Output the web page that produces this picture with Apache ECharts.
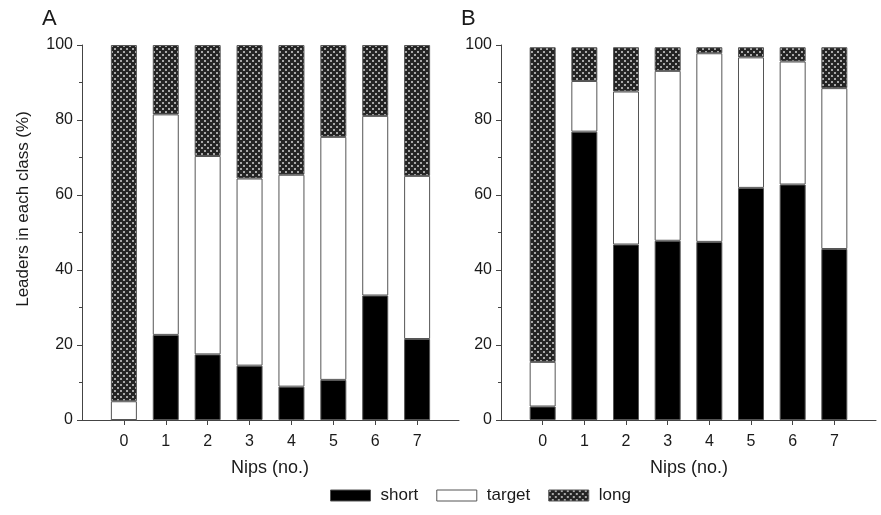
<!DOCTYPE html>
<html>
<head>
<meta charset="utf-8">
<script src="https://cdn.jsdelivr.net/npm/echarts@6/dist/echarts.min.js"></script>
<style>
html,body{margin:0;padding:0;background:#fff;}
#main{width:881px;height:515px;}
</style>
</head>
<body>
<div id="main"></div>
<script>
// Categories (number of nips)
var nips = ['0', '1', '2', '3', '4', '5', '6', '7'];
var yTicks = [0, 20, 40, 60, 80, 100];

// Panel A (% leaders per class)
var shortA  = [0,    22.7, 17.5, 14.5,  8.9, 10.7, 33.2, 21.6];
var targetA = [5.0,  58.8, 52.9, 49.9, 56.5, 64.8, 47.9, 43.5];
var longA   = [95.0, 18.5, 29.6, 35.6, 34.6, 24.5, 18.9, 34.9];

// Panel B (% leaders per class)
var shortB  = [3.6,  76.9, 46.8, 47.8, 47.5, 61.9, 62.8, 45.6];
var targetB = [11.9, 13.5, 40.8, 45.3, 50.3, 34.8, 32.8, 42.9];
var longB   = [83.9,  9.0, 11.8,  6.3,  1.6,  2.7,  3.8, 10.9];

// pattern for "long"
var pc = document.createElement('canvas');
pc.width = 6; pc.height = 6;
var ctx = pc.getContext('2d');
ctx.fillStyle = '#242424';
ctx.fillRect(0, 0, 6, 6);
ctx.fillStyle = '#a8a8a8';
ctx.fillRect(0, 0, 2, 2);
ctx.fillRect(3, 3, 2, 2);
var longFill = { image: pc, repeat: 'repeat' };

// pad categories with an empty slot on both sides
var cats = [''].concat(nips).concat(['']);
function pad(arr) { return [null].concat(arr).concat([null]); }

var txt = '#1a1a1a';
var ff = 'Liberation Sans, Arial';
function xAxisCfg(gi) {
  return {
    type: 'category', gridIndex: gi, data: cats, boundaryGap: false,
    axisLine: { lineStyle: { color: '#444', width: 1 } },
    axisTick: { length: 5, inside: false, lineStyle: { color: '#444' },
      interval: function (i) { return i > 0 && i < cats.length - 1; } },
    axisLabel: { interval: 0, color: txt, fontSize: 16, margin: 14, fontFamily: ff },
    splitLine: { show: false }
  };
}
function yAxisCfg(gi) {
  return {
    type: 'value', gridIndex: gi, min: yTicks[0], max: yTicks[yTicks.length - 1], interval: 20,
    axisLine: { show: true, lineStyle: { color: '#444', width: 1 } },
    axisTick: { show: true, length: 5, lineStyle: { color: '#444' } },
    minorTick: { show: true, splitNumber: 2, length: 3, lineStyle: { color: '#444' } },
    axisLabel: { color: txt, fontSize: 16, margin: 9, fontFamily: ff },
    splitLine: { show: false }
  };
}
function barSeries(name, data, gi, stack, color) {
  return {
    name: name, type: 'bar', xAxisIndex: gi, yAxisIndex: gi, stack: stack,
    data: pad(data), barWidth: 26,
    itemStyle: { color: color, borderColor: '#555', borderWidth: 1 },
    emphasis: { disabled: true }, animation: false
  };
}

var chart = echarts.init(document.getElementById('main'), null, { renderer: 'canvas' });
chart.setOption({
  backgroundColor: '#fff',
  animation: false,
  textStyle: { fontFamily: ff },
  grid: [
    { left: 82, top: 45, width: 377, height: 375 },
    { left: 501, top: 45, width: 375, height: 375 }
  ],
  xAxis: [xAxisCfg(0), xAxisCfg(1)],
  yAxis: [yAxisCfg(0), yAxisCfg(1)],
  legend: {
    left: 330, top: 487, padding: 0, icon: 'rect', itemWidth: 40, itemHeight: 11, itemGap: 18,
    data: ['short', 'target', 'long'],
    itemStyle: { borderColor: '#555', borderWidth: 1 },
    textStyle: { color: txt, fontSize: 17, padding: [0, 0, 0, 5] },
    selectedMode: false
  },
  series: [
    barSeries('short', shortA, 0, 'A', '#000'),
    barSeries('target', targetA, 0, 'A', '#fff'),
    barSeries('long', longA, 0, 'A', longFill),
    barSeries('short', shortB, 1, 'B', '#000'),
    barSeries('target', targetB, 1, 'B', '#fff'),
    barSeries('long', longB, 1, 'B', longFill)
  ],
  graphic: [
    { type: 'text', left: 42, top: 8, style: { text: 'A', fontSize: 22, fill: txt, fontFamily: ff } },
    { type: 'text', left: 461, top: 8, style: { text: 'B', fontSize: 22, fill: txt, fontFamily: ff } },
    { type: 'text', x: 270, y: 468, style: { text: 'Nips (no.)', fontSize: 18, fill: txt, align: 'center', verticalAlign: 'middle', fontFamily: ff } },
    { type: 'text', x: 689, y: 468, style: { text: 'Nips (no.)', fontSize: 18, fill: txt, align: 'center', verticalAlign: 'middle', fontFamily: ff } },
    { type: 'text', x: 23, y: 209, rotation: Math.PI / 2, style: { text: 'Leaders in each class (%)', fontSize: 17, fill: txt, align: 'center', verticalAlign: 'middle', fontFamily: ff } }
  ]
});
</script>
</body>
</html>
